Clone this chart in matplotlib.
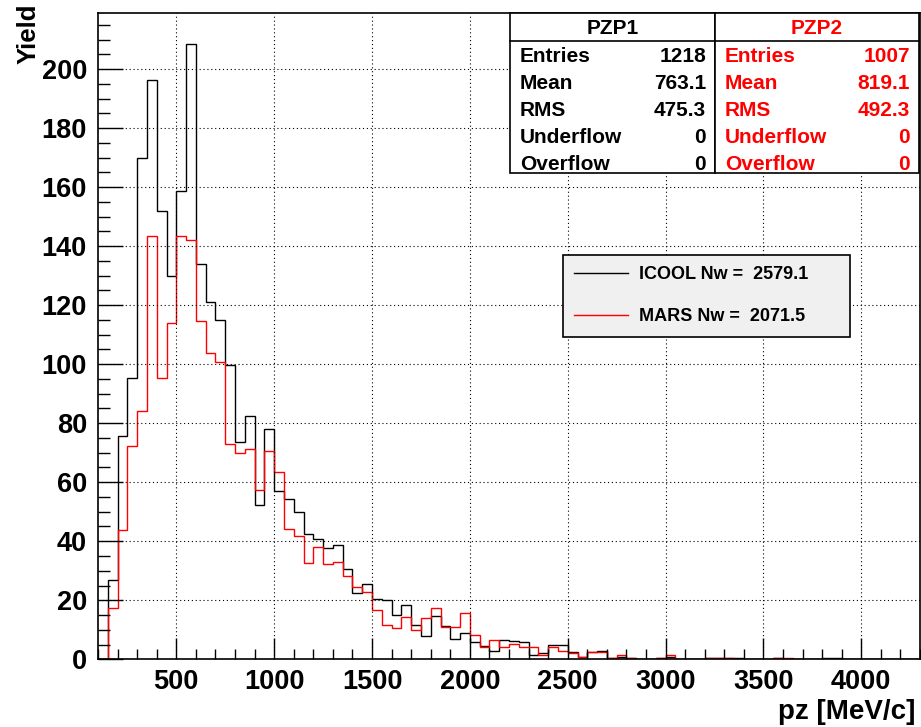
import numpy as np
import matplotlib
matplotlib.use("Agg")
import matplotlib.pyplot as plt
from matplotlib.patches import Rectangle
from matplotlib.ticker import MultipleLocator

# histogram contents, 50 MeV/c bins from 100 to 4300
edges = np.arange(100, 4301, 50)
icool = [0, 27, 75.5, 95.2, 170, 196.3, 151.8, 130, 158.8, 208.4,
         134.1, 121.2, 115, 99.7, 73.6, 82.6, 52.2, 78.1, 56.9, 54.2,
         49.8, 42.3, 40.9, 37.6, 38.7, 30.5, 22.4, 25.4, 20.5, 20.1,
         15.1, 18.5, 11.5, 7.8, 14.7, 11.2, 6.8, 9.0, 5.9, 4.5,
         2.8, 6.5, 6.3, 5.7, 1.5, 2.2, 4.9, 4.9, 2.4, 0.9,
         2.4, 2.9, 0.3, 0.8, 0.6, 0, 0, 0.3, 0.8, 0,
         0.2, 0, 0.6, 0.6, 0.6, 0.3, 0.2, 0, 0, 0.6,
         0, 0, 0, 0, 0.3, 0.3, 0, 0, 0, 0,
         0, 0, 0, 0]
mars = [0, 17.3, 43.8, 72.4, 84.3, 143.4, 95.2, 114, 143.5, 142,
        114.5, 103.7, 100.6, 72.9, 70, 71.1, 57.5, 70.7, 63.3, 44,
        41.8, 32.6, 38, 32.4, 33.1, 28.2, 24.5, 22.8, 16.6, 11.5,
        10.6, 14.2, 9.8, 14, 17.4, 11, 11, 15.6, 8.1, 4.2,
        6.4, 4.3, 5.2, 4.3, 4.3, 1.4, 4.3, 2.8, 2.1, 0.8,
        2.5, 2.6, 0.3, 1.5, 0.6, 0, 0, 0.3, 1.5, 0.1,
        0.2, 0, 0.3, 0.6, 0.3, 0.2, 0, 0, 0, 0.6,
        0.3, 0, 0, 0, 0, 0, 0, 0, 0, 0,
        0, 0, 0, 0]

stat_names = ["Entries", "Mean", "RMS", "Underflow", "Overflow"]
stats1 = ["1218", "763.1", "475.3", "0", "0"]
stats2 = ["1007", "819.1", "492.3", "0", "0"]
labels = ["ICOOL Nw =  2579.1", "MARS Nw =  2071.5"]

plt.rcParams['font.family'] = ['Liberation Sans', 'DejaVu Sans']
plt.rcParams['font.weight'] = 'bold'

W, H = 921, 727
fig = plt.figure(figsize=(W / 100, H / 100), dpi=100)
ax = fig.add_axes([98 / W, 1 - 659.3 / H, (920 - 98) / W, (659.3 - 13.3) / H])

h1 = ax.stairs(icool, edges, color='black', lw=1.0, baseline=0)
h2 = ax.stairs(mars, edges, color='red', lw=1.0, baseline=0)

ax.set_xlim(100, 4300)
ax.set_ylim(0, 218.9)
ax.xaxis.set_major_locator(MultipleLocator(500))
ax.xaxis.set_minor_locator(MultipleLocator(100))
ax.yaxis.set_major_locator(MultipleLocator(20))
ax.yaxis.set_minor_locator(MultipleLocator(5))
ax.tick_params(axis='x', which='major', direction='in', length=15, width=1, pad=7, labelsize=19.5)
ax.tick_params(axis='x', which='minor', direction='in', length=7, width=1)
ax.tick_params(axis='y', which='major', direction='in', length=18, width=1, pad=8, labelsize=19.5)
ax.tick_params(axis='y', which='minor', direction='in', length=8.5, width=1)
for lab in ax.get_xticklabels() + ax.get_yticklabels():
    lab.set_fontweight('bold')
ax.grid(True, which='major', color='black', linestyle=(0, (1, 2.5)), lw=0.8)
for s in ax.spines.values():
    s.set_linewidth(1.2)

fig.text(29 / W, 1 - 4 / H, "Yield", rotation=90, ha='center', va='top', fontsize=18.5, fontweight='bold')
fig.text(915 / W, 1 - 712 / H, "pz [MeV/c]", ha='right', va='center', fontsize=20, fontweight='bold')

# stats boxes
def px(x, y):
    return x / W, 1 - y / H

boxes = [(510, 715, "PZP1", stats1, 'black'), (715, 919, "PZP2", stats2, 'red')]
for x0, x1, name, vals, col in boxes:
    fig.patches.append(Rectangle(px(x0, 173.3), (x1 - x0) / W, (173.3 - 13.3) / H,
                                 transform=fig.transFigure, facecolor='white',
                                 edgecolor='black', lw=1.2, zorder=5))
    fig.lines.append(plt.Line2D([x0 / W, x1 / W], [1 - 40.7 / H] * 2, transform=fig.transFigure,
                                color='black', lw=1.2, zorder=6))
    fig.text(*px((x0 + x1) / 2, 28.5), name, ha='center', va='center', fontsize=15,
             fontweight='bold', color=col, zorder=7)
    for i, (n, v) in enumerate(zip(stat_names, vals)):
        y = 56 + i * 27.1
        fig.text(*px(x0 + 10, y), n, ha='left', va='center', fontsize=15, fontweight='bold', color=col, zorder=7)
        fig.text(*px(x1 - 9, y), v, ha='right', va='center', fontsize=15, fontweight='bold', color=col, zorder=7)

leg = ax.legend([h1, h2], labels, loc='upper left', mode='expand',
                bbox_to_anchor=((563 - 98) / 822, 1 - (255 - 13.3) / 646, (850 - 563) / 822, 0),
                prop={'size': 13, 'weight': 'bold'}, frameon=True, fancybox=False,
                handlelength=3.0, handletextpad=0.6, labelspacing=1.4, borderpad=0.62,
                borderaxespad=0)
leg.get_frame().set_facecolor('#f0f0f0')
leg.get_frame().set_edgecolor('black')
leg.get_frame().set_linewidth(1.2)
leg.get_frame().set_alpha(1)

fig.savefig("out.png", dpi=100)
